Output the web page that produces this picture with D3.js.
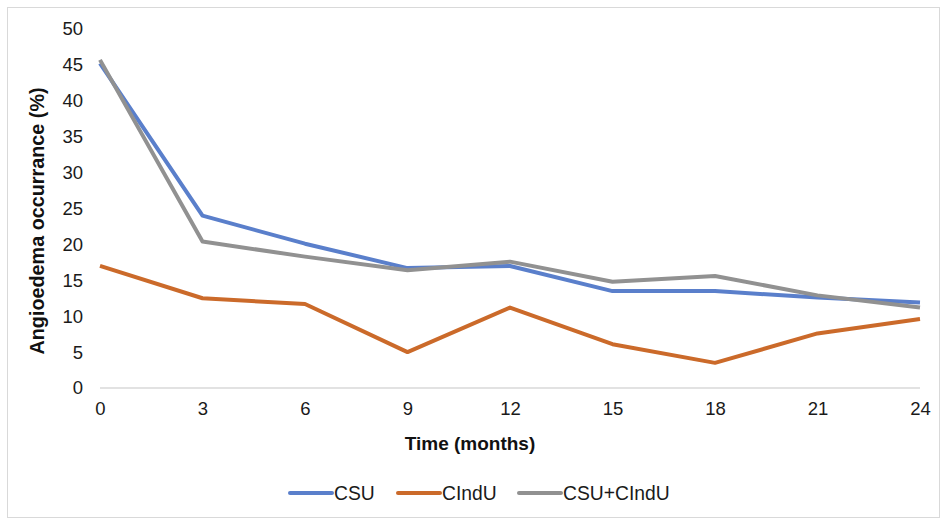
<!DOCTYPE html>
<html>
<head>
<meta charset="utf-8">
<script src="https://cdn.jsdelivr.net/npm/d3@7"></script>
<style>
  html, body { margin: 0; padding: 0; background: #fff; }
  svg { display: block; font-family: "Liberation Sans", Arial, sans-serif; }
</style>
</head>
<body>
<svg id="chart" width="941" height="519"></svg>
<script>
// Months of follow-up
const months = [0, 3, 6, 9, 12, 15, 18, 21, 24];
// Angioedema occurrence (%) per group
const csu = [45.2, 24.0, 20.1, 16.7, 17.0, 13.5, 13.5, 12.6, 11.9];
const cindu = [17.0, 12.5, 11.7, 5.0, 11.2, 6.1, 3.5, 7.6, 9.6];
const csuCindu = [45.7, 20.4, 18.3, 16.4, 17.6, 14.8, 15.6, 12.9, 11.2];
const seriesNames = ["CSU", "CIndU", "CSU+CIndU"];
const seriesColors = ["#5a7fcb", "#cb6a2a", "#919191"];
const yTicks = [0, 5, 10, 15, 20, 25, 30, 35, 40, 45, 50];

const series = [csu, cindu, csuCindu].map((vals, i) => ({
  name: seriesNames[i],
  color: seriesColors[i],
  points: months.map((m, j) => ({ m, v: vals[j] }))
}));

const svg = d3.select("#chart");
const W = 941, H = 519;

// outer frame
svg.append("rect")
  .attr("x", 7.5).attr("y", 7.5)
  .attr("width", W - 9).attr("height", H - 9)
  .attr("fill", "none").attr("stroke", "#d9d9d9").attr("stroke-width", 1);

const x = d3.scaleLinear().domain([0, 24]).range([100, 920]);
const y = d3.scaleLinear().domain([0, 50]).range([388, 29]);

// baseline
svg.append("line")
  .attr("x1", x(0)).attr("x2", x(24))
  .attr("y1", y(0)).attr("y2", y(0))
  .attr("stroke", "#d9d9d9").attr("stroke-width", 1.3);

// y axis labels
const yAxis = d3.axisLeft(y).tickValues(yTicks).tickSize(0).tickPadding(0);
const gy = svg.append("g").attr("transform", "translate(83,0)").call(yAxis);
gy.select(".domain").remove();
gy.selectAll("text")
  .attr("font-size", 18.5).attr("fill", "#1a1a1a")
  .attr("font-family", "Liberation Sans, Arial, sans-serif");

// x axis labels
const xAxis = d3.axisBottom(x).tickValues(months).tickSize(0).tickPadding(0);
const gx = svg.append("g").attr("transform", "translate(0,402)").call(xAxis);
gx.select(".domain").remove();
gx.selectAll("text")
  .attr("font-size", 18.5).attr("fill", "#1a1a1a")
  .attr("font-family", "Liberation Sans, Arial, sans-serif");

// axis titles
svg.append("text")
  .attr("x", 470).attr("y", 449.5)
  .attr("text-anchor", "middle")
  .attr("font-size", 19).attr("font-weight", "bold").attr("fill", "#111")
  .text("Time (months)");

svg.append("text")
  .attr("transform", "translate(43.5,221) rotate(-90)")
  .attr("text-anchor", "middle")
  .attr("font-size", 19.8).attr("font-weight", "bold").attr("fill", "#111")
  .text("Angioedema occurrance (%)");

// series lines
const line = d3.line().x(d => x(d.m)).y(d => y(d.v));
svg.append("g").selectAll("path")
  .data(series)
  .join("path")
  .attr("d", d => line(d.points))
  .attr("fill", "none")
  .attr("stroke", d => d.color)
  .attr("stroke-width", 4)
  .attr("stroke-linejoin", "round");

// legend
const legendPos = [290, 398, 519];
const lg = svg.append("g").selectAll("g")
  .data(series)
  .join("g")
  .attr("transform", (d, i) => `translate(${legendPos[i]},493)`);
lg.append("line")
  .attr("x1", 0).attr("x2", 42)
  .attr("stroke", d => d.color).attr("stroke-width", 4)
  .attr("stroke-linecap", "round");
lg.append("text")
  .attr("x", 44).attr("y", 6.5)
  .attr("font-size", 19.3).attr("fill", "#1a1a1a")
  .text(d => d.name);
</script>
</body>
</html>
